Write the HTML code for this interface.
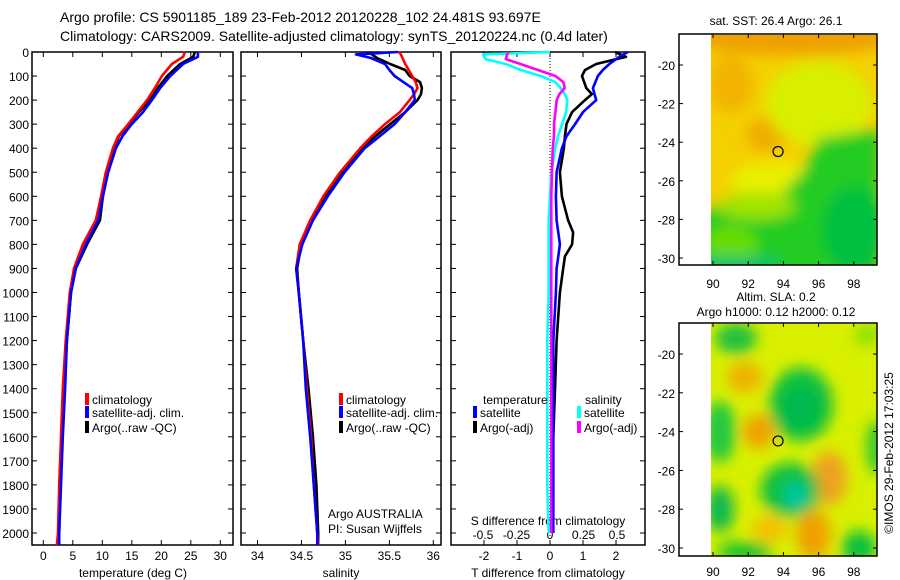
<!DOCTYPE html>
<html><head><meta charset="utf-8"><style>
html,body{margin:0;padding:0;background:#fff;}
svg{display:block;font-family:"Liberation Sans",sans-serif;}
</style></head><body>
<svg id="c" width="900" height="580" viewBox="0 0 900 580">
<defs>
<filter id="bl" x="-50%" y="-50%" width="200%" height="200%"><feGaussianBlur stdDeviation="7"/></filter>
<clipPath id="m1c"><rect x="711" y="35" width="166" height="230"/></clipPath>
<clipPath id="m2c"><rect x="711" y="324" width="166" height="232"/></clipPath>
</defs>
<text x="60" y="22" font-size="14">Argo profile: CS 5901185_189 23-Feb-2012 20120228_102 24.481S 93.697E</text>
<text x="60" y="41" font-size="14">Climatology: CARS2009. Satellite-adjusted climatology: synTS_20120224.nc (0.4d later)</text>
<g id="g"></g>
</svg>
<script>
// ---- data ----
const depthsT = [0,20,50,100,150,200,250,300,350,400,500,600,700,800,900,1000,1200,1400,1600,1800,2000,2050];
const tempClim = [24.0,23.7,21.8,20.1,18.9,17.6,16.0,14.4,12.7,11.8,10.6,9.8,8.9,6.7,5.2,4.5,3.8,3.3,3.0,2.7,2.5,2.3];
const tempSat  = [26.2,26.2,23.7,21.5,19.8,18.4,16.9,15.0,13.4,12.3,11.0,10.1,9.3,7.2,5.5,4.7,4.0,3.7,3.3,3.0,2.7,2.7];
const tempArgo = [25.7,25.4,23.2,21.0,19.4,18.1,16.2,14.5,12.8,12.0,10.8,10.1,9.6,7.4,5.5,4.7,4.0,3.5,3.2,2.8,2.7,2.7];
const depthsS = [0,10,25,50,75,100,125,150,175,200,250,300,350,400,500,600,700,800,900,1000,1200,1400,1600,1800,2000,2050];
const salClim = [35.61,35.63,35.65,35.68,35.72,35.76,35.80,35.82,35.78,35.73,35.62,35.45,35.30,35.17,34.94,34.75,34.60,34.48,34.44,34.47,34.52,34.56,34.61,34.64,34.68,34.69];
const salSat  = [35.60,35.12,35.29,35.45,35.50,35.56,35.66,35.76,35.78,35.79,35.68,35.56,35.39,35.22,34.99,34.80,34.63,34.51,34.44,34.47,34.52,34.55,34.60,34.64,34.68,34.68];
const salArgo = [35.30,35.30,35.36,35.51,35.68,35.73,35.85,35.87,35.86,35.82,35.68,35.51,35.34,35.19,34.96,34.78,34.62,34.50,34.45,34.47,34.52,34.58,34.63,34.67,34.69,34.69];
const depthsD = [0,20,50,75,100,150,175,200,250,300,350,400,500,600,700,750,800,850,900,1000,1200,1400,1600,1800,2000];
const dTsat  = [2.36,2.1,1.8,1.6,1.45,1.3,1.35,1.4,1.0,0.76,0.5,0.36,0.2,0.18,0.2,0.25,0.3,0.25,0.2,0.18,0.1,0.1,0.1,0.1,0.1];
const dTargo = [1.97,2.3,1.4,1.06,0.97,1.1,1.27,1.06,0.67,0.5,0.45,0.42,0.3,0.36,0.55,0.7,0.67,0.45,0.4,0.3,0.2,0.15,0.1,0.06,0.03];
const depthsDS = [0,10,30,50,75,100,125,150,175,200,250,300,350,400,500,600,700,800,1000,1200,1400,1600,1800,2000];
const dSsat  = [0,-0.5,-0.48,-0.33,-0.22,-0.07,0.04,0.08,0.11,0.13,0.12,0.09,0.06,0.04,0.01,0,-0.01,-0.01,-0.01,-0.02,-0.02,-0.02,-0.02,-0.01];
const dSargo = [-0.31,-0.32,-0.33,-0.22,-0.09,0.04,0.1,0.11,0.07,0.05,0.04,0.03,0.03,0.02,0.015,0.01,0.01,0.01,0.01,0.01,0.01,0.01,0.01,0.01];
const depthTicks = [0,100,200,300,400,500,600,700,800,900,1000,1100,1200,1300,1400,1500,1600,1700,1800,1900,2000];
const tempTicks = [0,5,10,15,20,25,30];
const salTicks = [34,34.5,35,35.5,36];
const salTickLabels = ["34","34.5","35","35.5","36"];
const dTTicks = [-2,-1,0,1,2];
const dSTicks = [-0.5,-0.25,0,0.25,0.5];
const dSTickLabels = ["-0.5","-0.25","0","0.25","0.5"];
const lonTicks = [90,92,94,96,98];
const latTicks = [-20,-22,-24,-26,-28,-30];
const argoPos = [93.697,-24.481];

// ---- axis functions ----
const yD = d => 52 + d*0.2405;
const xT = t => 43.3 + t*5.9;
const xS = s => 257.5 + (s-34)*87.9;
const xdT = v => 550 + v*33;
const xdS = v => 550 + v*134;
const xLon = l => 713 + (l-90)*17.6;
const yLat1 = la => 65 + (-20-la)*19.3;
const yLat2 = la => 354 + (-20-la)*19.4;

const NS="http://www.w3.org/2000/svg";
const G=document.getElementById('g');
function mk(tag,attrs,parent){const e=document.createElementNS(NS,tag);for(const k in attrs)e.setAttribute(k,attrs[k]);(parent||G).appendChild(e);return e;}
function txt(x,y,s,size,anchor,parent){const e=mk('text',{x:x,y:y,'font-size':size,'text-anchor':anchor||'start'},parent);e.textContent=s;return e;}

const panels=[[32,233,'temperature-panel'],[241,441,'salinity-panel'],[451,645,'difference-panel']];
panels.forEach(p=>{
  const r=mk('rect',{x:p[0],y:52,width:p[1]-p[0],height:493,fill:'none',stroke:'#000','stroke-width':1.5});
  
  
  depthTicks.forEach(d=>{
    mk('line',{x1:p[0],x2:p[0]+5,y1:yD(d),y2:yD(d),stroke:'#000'});
    mk('line',{x1:p[1]-5,x2:p[1],y1:yD(d),y2:yD(d),stroke:'#000'});
  });
});
depthTicks.forEach(d=>{const t=txt(29,yD(d)+5,String(d),12,'end');
  
  });
function xTicks(vals,labels,fx,ly){vals.forEach((v,i)=>{
  mk('line',{x1:fx(v),x2:fx(v),y1:52,y2:57,stroke:'#000'});
  mk('line',{x1:fx(v),x2:fx(v),y1:540,y2:545,stroke:'#000'});
  const t=txt(fx(v),ly,labels[i],12,'middle');
  
  });}
xTicks(tempTicks,tempTicks.map(String),xT,560);
xTicks(salTicks,salTickLabels,xS,560);
xTicks(dTTicks,dTTicks.map(String),xdT,560);
dSTicks.forEach((v,i)=>{const t=txt(xdS(v),539,dSTickLabels[i],12,'middle');
  
  });
let t;
t=txt(133,577,'temperature (deg C)',12,'middle');
t=txt(341,577,'salinity',12,'middle');
t=txt(548,577,'T difference from climatology',12,'middle');
t=txt(548,525,'S difference from climatology',12,'middle');
mk('line',{x1:xdT(0),x2:xdT(0),y1:52,y2:545,stroke:'#000','stroke-dasharray':'1,2'});

function line(depths,vals,fx,col,name){
  const pts=depths.map((d,i)=>fx(vals[i]).toFixed(1)+','+yD(d).toFixed(1)).join(' ');
  const e=mk('polyline',{points:pts,fill:'none',stroke:col,'stroke-width':2.6,'stroke-linejoin':'round'});
  
  
}
line(depthsT,tempArgo,xT,'#000','temp-argo-line');
line(depthsT,tempClim,xT,'#f00','temp-climatology-line');
line(depthsT,tempSat,xT,'#00f','temp-satellite-line');
line(depthsS,salArgo,xS,'#000','sal-argo-line');
line(depthsS,salClim,xS,'#f00','sal-climatology-line');
line(depthsS,salSat,xS,'#00f','sal-satellite-line');
line(depthsD,dTargo,xdT,'#000','dt-argo-line');
line(depthsD,dTsat,xdT,'#00f','dt-satellite-line');
line(depthsDS,dSsat,xdS,'#0ff','ds-satellite-line');
line(depthsDS,dSargo,xdS,'#f0f','ds-argo-line');

function leg(x,y,col,label,name){
  const g=mk('g',{});
  
  
  mk('rect',{x:x,y:y-11,width:4,height:12,fill:col},g);
  txt(x+7,y,label,12,'start',g);
}
leg(85,404,'#f00','climatology','legend-climatology');
leg(85,417,'#00f','satellite-adj. clim.','legend-satellite');
leg(85,432,'#000','Argo(..raw -QC)','legend-argo');
leg(339,404,'#f00','climatology','legend2-climatology');
leg(339,417,'#00f','satellite-adj. clim.','legend2-satellite');
leg(339,432,'#000','Argo(..raw -QC)','legend2-argo');
t=txt(483,404,'temperature',12);
t=txt(585,404,'salinity',12);
leg(473,417,'#00f','satellite','legend-t-satellite');
leg(473,432,'#000','Argo(-adj)','legend-t-argo');
leg(577,417,'#0ff','satellite','legend-s-satellite');
leg(577,432,'#f0f','Argo(-adj)','legend-s-argo');
t=txt(328,518,'Argo AUSTRALIA',12);
t=txt(328,533,'PI: Susan Wijffels',12);

function map(y0,y1,yLat,clip,blobs,base,name,ticky){
  const g=mk('g',{'clip-path':'url(#'+clip+')'});
  
  
  mk('rect',{x:711,y:y0,width:166,height:y1-y0,fill:base},g);
  const gb=mk('g',{filter:'url(#bl)'},g);
  blobs.forEach(b=>{
    if(b[0]==='p'){mk('polygon',{points:b[1].map(q=>xLon(q[0])+','+yLat(q[1])).join(' '),fill:b[2]},gb);}
    else mk('ellipse',{cx:xLon(b[0]),cy:yLat(b[1]),rx:b[2]*17.6,ry:b[3]*19.3,fill:b[4]},gb);
  });
  mk('rect',{x:679,y:y0-1,width:198,height:y1-y0+1,fill:'none',stroke:'#000','stroke-width':1.5});
  lonTicks.forEach(l=>{mk('line',{x1:xLon(l),x2:xLon(l),y1:y1-4,y2:y1,stroke:'#000'});mk('line',{x1:xLon(l),x2:xLon(l),y1:y0-1,y2:y0+3,stroke:'#000'});
    const tt=txt(xLon(l),ticky,String(l),12,'middle');});
  latTicks.forEach(la=>{mk('line',{x1:679,x2:683,y1:yLat(la),y2:yLat(la),stroke:'#000'});mk('line',{x1:873,x2:877,y1:yLat(la),y2:yLat(la),stroke:'#000'});
    const tt=txt(675,yLat(la)+5,String(la),12,'end');});
  const c=mk('circle',{cx:xLon(argoPos[0]),cy:yLat(argoPos[1]),r:5,fill:'none',stroke:'#000','stroke-width':1.2});
  
  
}
map(35,265,yLat1,'m1c',[
  [94.5,-18.6,6,0.9,'#eea000'],
  [91,-21,1.3,1.5,'#f2b400'],
  [93,-23.6,1.1,0.9,'#efac00'],
  [96,-22,3,2.2,'#d8f000'],
  [93.5,-26,2.5,1.0,'#e8f000'],
  ['p',[[96,-23.8],[99.5,-23.3],[99.5,-31],[89,-31],[89,-27.6],[92,-27.2],[94,-26.6],[95.2,-25.4]],'#22cc22'],
  [92.5,-27.3,2.2,0.7,'#a0e400'],
  [91,-29.3,1.5,1.0,'#66dd00'],
  [98,-28.5,1.8,2.2,'#00c040'],
  [91,-30.3,3,0.4,'#00c070']
],'#f5d000','sst-map',288);
map(324,556,yLat2,'m2c',[
  [95,-22.6,1.8,1.9,'#10c040'],[95,-22.8,1.0,1.0,'#00b850'],
  [91.3,-19.2,1.2,0.8,'#20c040'],
  [90.4,-24,0.9,1.6,'#20c840'],
  [92.6,-24,0.9,0.9,'#f0a000'],[91.8,-21.2,1.0,0.8,'#f0b000'],
  [96.6,-26.4,1.0,1.4,'#f0a020'],[95.7,-29.3,1.0,1.3,'#f0a000'],[93.2,-29,1.0,0.7,'#f5c000'],
  [94.4,-27,1.7,1.4,'#10c040'],[94.7,-27.3,0.7,0.7,'#00c8a0'],
  [90.4,-28,0.8,1.2,'#10b850'],
  [91.8,-30.2,1.6,0.5,'#10c030'],[98.3,-30,1.0,0.9,'#10c040'],
  [99.3,-24.8,0.6,1.4,'#30c830'],[98.8,-19,0.8,0.6,'#90e000']
],'#d8f000','sla-map',576);
t=txt(776,25,'sat. SST: 26.4  Argo: 26.1',12,'middle');
t=txt(776,301,'Altim. SLA: 0.2',12,'middle');
t=txt(776,316,'Argo h1000: 0.12 h2000: 0.12',12,'middle');
t=txt(0,0,'©IMOS 29-Feb-2012 17:03:25',12,'middle');t.setAttribute('transform','translate(893,453) rotate(-90)');

</script>
</body></html>
